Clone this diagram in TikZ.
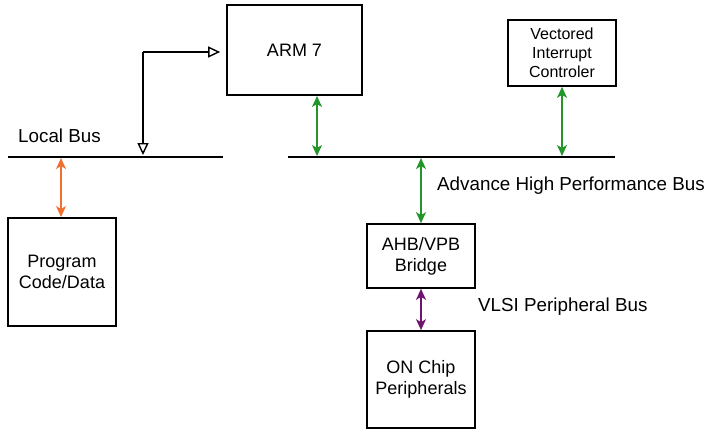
\documentclass[tikz,border=0pt]{standalone}
\usepackage{fontspec}
\setmainfont{Liberation Sans}
\usetikzlibrary{arrows.meta}
\definecolor{busgreen}{RGB}{34,150,40}
\definecolor{busorange}{RGB}{240,112,50}
\definecolor{buspurple}{RGB}{110,20,110}
\begin{document}
\begin{tikzpicture}[x=1pt,y=-1pt,
  blk/.style={draw,line width=1.7pt,inner sep=0pt,align=center,font=\fontsize{18}{21}\selectfont},
  busline/.style={line width=1.8pt},
  lbl/.style={font=\fontsize{18.8}{21}\selectfont,anchor=west,inner sep=0pt},
  dbl/.style={line width=1.4pt,{Stealth[length=11pt,width=10pt,inset=3pt]}-{Stealth[length=11pt,width=10pt,inset=3pt]}},
  opn/.style={line width=1.1pt,-{Triangle[open,length=12pt,width=11pt,line width=1.4pt]}}]
\useasboundingbox (0,0) rectangle (709,432);
% boxes
\node[blk,minimum width=135pt,minimum height=90pt] (arm) at (294.5,50) {ARM 7};
\node[blk,minimum width=108pt,minimum height=66pt,font=\fontsize{16}{19}\selectfont] (vic) at (562,53) {Vectored\\Interrupt\\Controler};
\node[blk,minimum width=108pt,minimum height=108pt] (prog) at (62,272) {Program\\Code/Data};
\node[blk,minimum width=108pt,minimum height=64pt] (bridge) at (421,256) {AHB/VPB\\Bridge};
\node[blk,minimum width=108pt,minimum height=97pt] (onchip) at (421,379.5) {ON Chip\\Peripherals};
% buses
\coordinate (lbA) at (8,157);
\coordinate (lbB) at (223,157);
\coordinate (ahbA) at (288,157);
\coordinate (ahbB) at (615,157);
\draw[busline] (lbA) -- (lbB);
\draw[busline] (ahbA) -- (ahbB);
\node[lbl] (lbt) at (18,136) {Local Bus};
\node[lbl] (ahbt) at (437,186) {Advance High Performance Bus};
\node[lbl] (vpbt) at (478,307) {VLSI Peripheral Bus};
% black open arrows
\coordinate (ctl) at (143,52);
\coordinate (ctlb) at (143,155);
\draw[opn] (ctl) -- ([xshift=-6pt]arm.west |- ctl);
\draw[opn] (ctl) -- (ctlb);
% coloured bus arrows
\coordinate (o1) at (61,158);
\coordinate (o2) at (61,217);
\coordinate (g1) at (317,96);
\coordinate (g2) at (317,156);
\draw[dbl,busorange] (o1) -- (o2);
\draw[dbl,busgreen] (g1) -- (g2);
\draw[dbl,busgreen] (vic.south) -- (vic.south |- g2);
\draw[dbl,busgreen] (421,158) -- (bridge.north);
\draw[dbl,buspurple] (bridge.south) -- (onchip.north);
\end{tikzpicture}
\end{document}
